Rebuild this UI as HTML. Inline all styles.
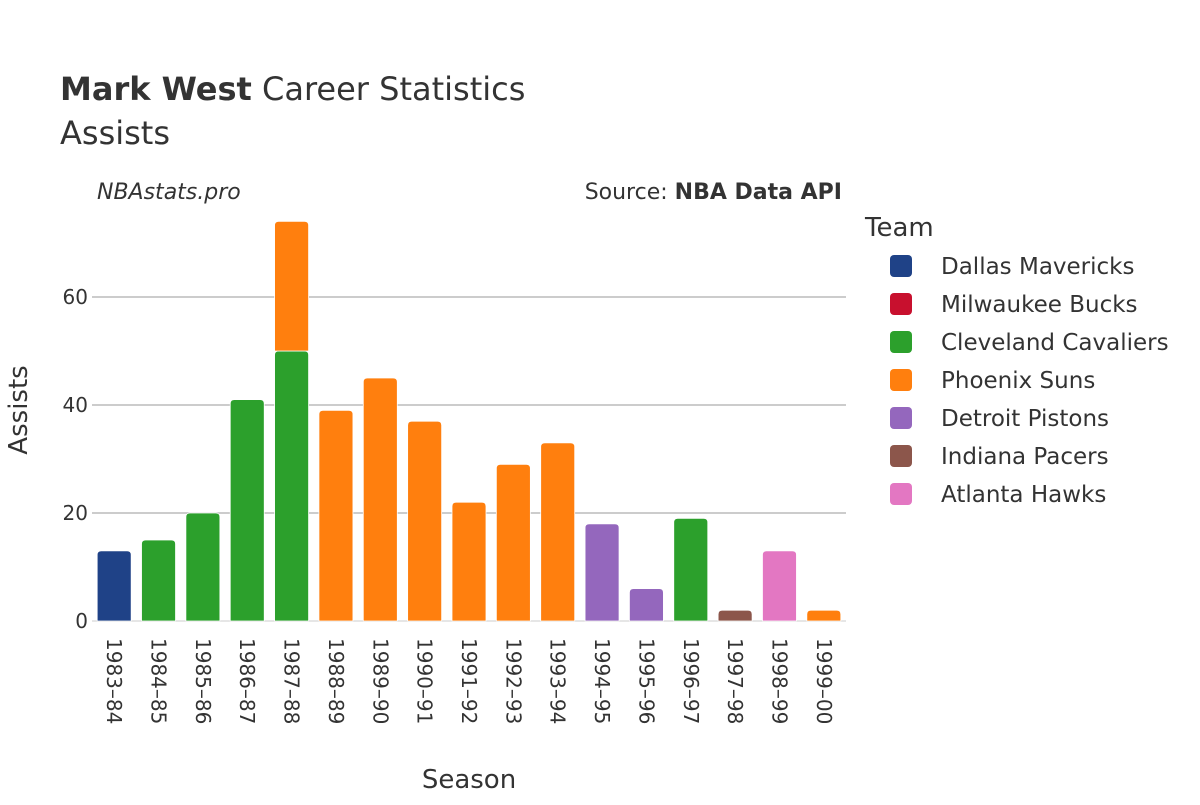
<!DOCTYPE html>
<html><head><meta charset="utf-8"><style>
body{margin:0;background:#fff;width:1200px;height:800px;overflow:hidden;font-family:"Liberation Sans","DejaVu Sans",sans-serif}
svg text{font-family:"DejaVu Sans","Liberation Sans",sans-serif;fill:#333}
</style></head><body>
<svg id="chart" width="1200" height="800">
<text x="60" y="100" font-size="32"><tspan font-weight="bold">Mark West</tspan> Career Statistics</text>
<text x="60" y="144" font-size="32">Assists</text>
<text x="97" y="199" font-size="22" font-style="italic">NBAstats.pro</text>
<text x="842" y="199" font-size="22" text-anchor="end">Source: <tspan font-weight="bold">NBA Data API</tspan></text>
<g id="grid"></g>
<g id="bars"></g>
<g id="xticks"></g>
<text x="469" y="788" font-size="26" text-anchor="middle">Season</text>
<text transform="translate(27,410) rotate(-90)" font-size="26" text-anchor="middle">Assists</text>
<text x="865" y="236" font-size="26">Team</text>
<g id="legend"></g>
</svg>
<script>
const seasons=["1983–84","1984–85","1985–86","1986–87","1987–88","1988–89","1989–90","1990–91","1991–92","1992–93","1993–94","1994–95","1995–96","1996–97","1997–98","1998–99","1999–00"];
const teams=["Dallas Mavericks","Milwaukee Bucks","Cleveland Cavaliers","Phoenix Suns","Detroit Pistons","Indiana Pacers","Atlanta Hawks"];
const colors=["#1f4287","#c8102e","#2ca02c","#ff7f0e","#9467bd","#8c564b","#e377c2"];
const dal=[13,0,0,0,0,0,0,0,0,0,0,0,0,0,0,0,0];
const mil=[0,0,0,0,0,0,0,0,0,0,0,0,0,0,0,0,0];
const cle=[0,15,20,41,50,0,0,0,0,0,0,0,0,19,0,0,0];
const phx=[0,0,0,0,24,39,45,37,22,29,33,0,0,0,0,0,2];
const det=[0,0,0,0,0,0,0,0,0,0,0,18,6,0,0,0,0];
const ind=[0,0,0,0,0,0,0,0,0,0,0,0,0,0,2,0,0];
const atl=[0,0,0,0,0,0,0,0,0,0,0,0,0,0,0,13,0];
const series=[dal,mil,cle,phx,det,ind,atl];
const yTicks=[0,20,40,60];
const NS="http://www.w3.org/2000/svg";
const x0=92,x1=846,y0=621,pxPer=5.4;
const band=(x1-x0)/seasons.length,bw=34;
const xc=i=>x0+band*(i+0.5);
const ys=v=>y0-v*pxPer;
function mk(t,a,p){const e=document.createElementNS(NS,t);for(const k in a)e.setAttribute(k,a[k]);p.appendChild(e);return e;}
const grid=document.getElementById('grid');
yTicks.forEach(v=>{
  const l=mk('line',{x1:x0,x2:x1,y1:ys(v),y2:ys(v),stroke:v===0?'#e6e6e6':'#999','stroke-width':v===0?2:1},grid);
  
  
  const t=mk('text',{x:x0-4,y:ys(v)+7,'font-size':20,'text-anchor':'end'},grid);
  t.textContent=v;
  
  
});
const bars=document.getElementById('bars');
seasons.forEach((s,i)=>{
  let base=0;
  series.forEach((arr,k)=>{
    const v=arr[i];if(!v)return;
    const top=base+v;
    const h=v*pxPer;
    const x=xc(i)-bw/2,y=ys(top);
    const r=Math.min(4,h/2);
    const p=mk('path',{d:`M${x},${y+h}V${y+r}Q${x},${y} ${x+r},${y}H${x+bw-r}Q${x+bw},${y} ${x+bw},${y+r}V${y+h}Z`,fill:colors[k],stroke:'#fff','stroke-width':0.8},bars);
    
    
    base=top;
  });
  const t=mk('text',{transform:`translate(${xc(i)-7},638) rotate(90)`,'font-size':20},document.getElementById('xticks'));
  t.textContent=s;
  
  
});
const lg=document.getElementById('legend');
teams.forEach((t,k)=>{
  const y=266+k*38;
  const r=mk('rect',{x:890,y:y-11,width:22,height:22,rx:4,fill:colors[k]},lg);
  
  
  const tx=mk('text',{x:941,y:y+8,'font-size':23},lg);
  tx.textContent=t;
  
  
});
</script>
</body></html>
